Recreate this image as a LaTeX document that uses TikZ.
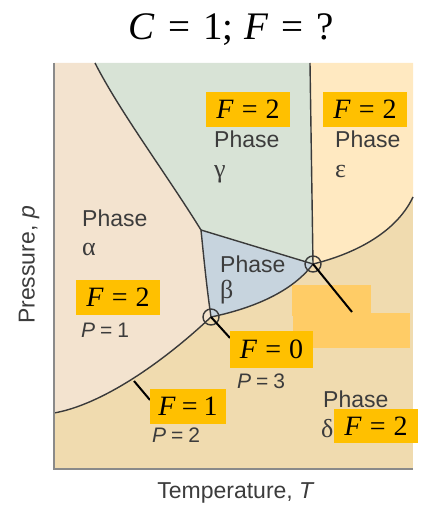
\documentclass[tikz,border=0pt]{standalone}
\usepackage{fontspec}
\setmainfont{Liberation Serif}
\setsansfont{Liberation Sans}
\definecolor{calpha}{HTML}{F3E3CF}
\definecolor{cgamma}{HTML}{D8E3D6}
\definecolor{cbeta}{HTML}{C7D4DE}
\definecolor{ceps}{HTML}{FFE9C1}
\definecolor{cdelta}{HTML}{F0DBAF}
\definecolor{fyellow}{HTML}{FFC000}
\definecolor{forange}{HTML}{FFCC66}
\definecolor{lngray}{HTML}{3A3A3A}
\definecolor{axgray}{HTML}{8A8A8A}
\definecolor{txtgray}{HTML}{3C3C3C}
\newcommand\phfont{\sffamily\fontsize{23}{27}\selectfont}
\newcommand\pfont{\sffamily\fontsize{21}{25}\selectfont}
\newcommand\grfont{\rmfamily\fontsize{26}{30}\selectfont}
\newcommand\flfont{\rmfamily\fontsize{28}{32}\selectfont}
\newcommand\ttlfont{\rmfamily\fontsize{39}{44}\selectfont}
\begin{document}
\begin{tikzpicture}[x=1pt,y=-1pt,
  phase/.style={font=\phfont, text=txtgray, inner sep=0, anchor=base west},
  greek/.style={font=\grfont, text=txtgray, inner sep=0, anchor=base west},
  pcount/.style={font=\pfont, text=txtgray, inner sep=0, anchor=base west},
  flabel/.style={fill=fyellow, inner sep=0, font=\flfont, text=black, minimum height=35pt, minimum width=84pt},
  bnd/.style={draw=lngray, line width=1.4pt},
  ptr/.style={draw=black, line width=2pt},
  tpoint/.style={circle, draw=lngray, line width=1.4pt, minimum size=16pt, inner sep=0},
  axis/.style={draw=axgray, line width=1.6pt}]
\useasboundingbox (0,0) rectangle (421,508);
% key points
\coordinate (TL) at (54,63);
\coordinate (TR) at (413,63);
\coordinate (BL) at (54,469);
\coordinate (BR) at (413,469);
\coordinate (A) at (95,63);
\coordinate (J) at (201,230);
\coordinate (B) at (211,317);
\coordinate (C) at (313,264);
\coordinate (E) at (310,63);
\coordinate (R) at (413,197);
\coordinate (L) at (54,413);
% fills
\fill[cdelta] (TL) rectangle (BR);
\fill[calpha] (TL) -- (A) .. controls (120,112) and (165,172) .. (J)
  .. controls (204,260) and (207,290) .. (B)
  .. controls (160,365) and (100,405) .. (L) -- cycle;
\fill[cgamma] (A) .. controls (120,112) and (165,172) .. (J) -- (C) -- (E) -- cycle;
\fill[cbeta] (J) .. controls (204,260) and (207,290) .. (B)
  .. controls (245,310) and (290,295) .. (C) -- cycle;
\fill[ceps] (E) -- (TR) -- (R) .. controls (395,235) and (350,255) .. (C) -- cycle;
% boundaries
\draw[bnd] (A) .. controls (120,112) and (165,172) .. (J);
\draw[bnd] (J) .. controls (204,260) and (207,290) .. (B);
\draw[bnd] (J) -- (C);
\draw[bnd] (E) -- (C);
\draw[bnd] (B) .. controls (245,310) and (290,295) .. (C);
\draw[bnd] (C) .. controls (350,255) and (395,235) .. (R);
\draw[bnd] (B) .. controls (160,365) and (100,405) .. (L);
% axes
\draw[axis] (TL) -- (BL) -- (BR);
% triple points
\node[tpoint] (tp1) at (B) {};
\node[tpoint] (tp2) at (C) {};
% orange overlay
\fill[forange] (292,285) rectangle (371,316);
\fill[forange] (293,313) rectangle (410,348);
% pointers
\coordinate (p2end) at (352,312);
\coordinate (p1end) at (230,338);
\coordinate (p3a) at (134,381);
\coordinate (p3b) at (150,400);
\draw[ptr] (tp2.center) -- (p2end);
\draw[ptr] (tp1.center) -- (p1end);
\draw[ptr] (p3a) -- (p3b);
% yellow labels
\node[flabel] (fg) at (248,109.5) {\textit{F}\kern8pt=\kern8pt2};
\node[flabel] (fe) at (365,109.5) {\textit{F}\kern8pt=\kern8pt2};
\node[flabel] (fa) at (118,297.5) {\textit{F}\kern8pt=\kern8pt2};
\node[flabel, minimum width=83pt, minimum height=37pt] (f0) at (271.5,349.5) {\textit{F}\kern8pt=\kern8pt0};
\node[flabel, minimum width=76pt] (f1) at (188,406.5) {\textit{F}\kern6pt=\kern6pt1};
\node[flabel, minimum height=34pt] (fd) at (376,426) {\textit{F}\kern8pt=\kern8pt2};
% phase texts
\node[phase] (tg) at (214,147) {Phase};
\node[greek] (gg) at (214,177) {γ};
\node[phase] (te) at (335,147) {Phase};
\node[greek] (ge) at (335,177) {ε};
\node[phase] (ta) at (82,226) {Phase};
\node[greek] (ga) at (82,255) {α};
\node[phase] (tb) at (220,272) {Phase};
\node[greek] (gb) at (220,298) {β};
\node[phase] (td) at (323,407) {Phase};
\node[greek] (gd) at (321,437) {δ};
% P counts
\node[pcount] (p1) at (81,337) {\textit{P}\kern5pt=\kern5pt1};
\node[pcount] (p2) at (152,442) {\textit{P}\kern5pt=\kern5pt2};
\node[pcount] (p3) at (237,388) {\textit{P}\kern5pt=\kern5pt3};
% axis labels
\node[font=\phfont, text=txtgray, inner sep=0] (xl) at (236,493) {Temperature, \textit{T}};
\node[font=\phfont, text=txtgray, inner sep=0, rotate=90] (yl) at (29,265) {Pressure, \textit{p}};
% title
\node[font=\ttlfont, text=black, inner sep=0, anchor=base] (title) at (231.5,40) {\textit{C}\kern13pt=\kern13pt1;\kern11pt\textit{F}\kern13pt=\kern13pt?};
\end{tikzpicture}
\end{document}
